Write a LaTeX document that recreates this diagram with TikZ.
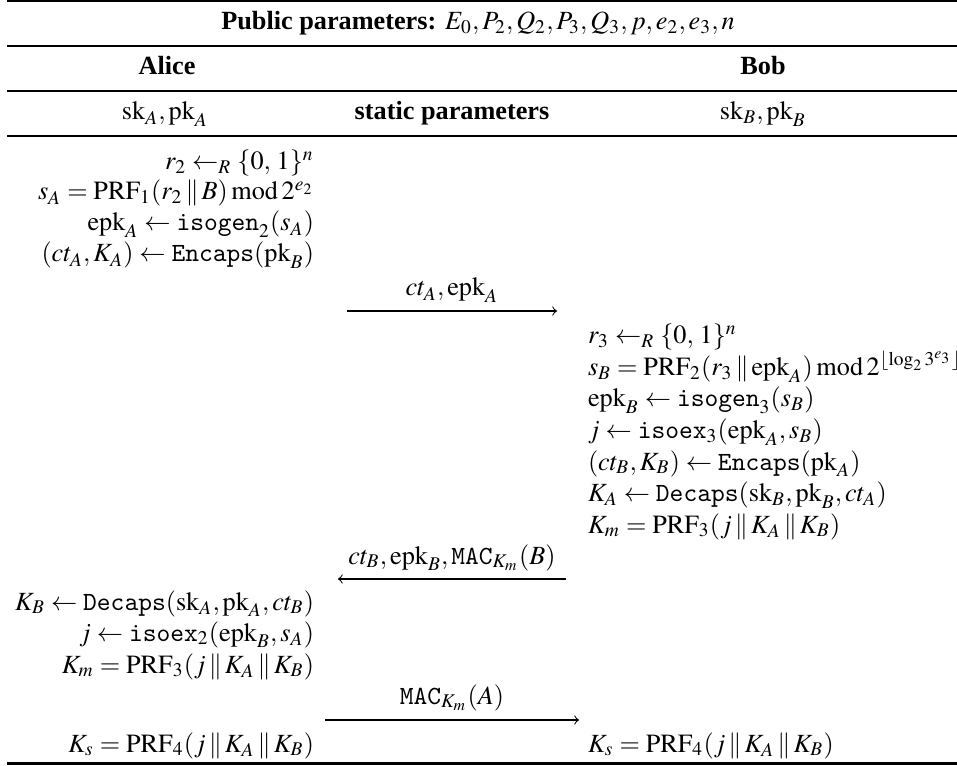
\documentclass[tikz,border=0pt]{standalone}
\usepackage{mathptmx}
\usepackage{fontspec}
\setmainfont{Liberation Serif}
\tikzset{
  txt/.style={inner sep=0pt, outer sep=0pt, font=\fontsize{10}{12}\selectfont},
  lcol/.style={txt, anchor=base east},
  rcol/.style={txt, anchor=base west},
  ctr/.style={txt, anchor=base},
  msg/.style={line width=0.4pt, -to},
  heavyrule/.style={line width=0.8pt},
  lightrule/.style={line width=0.5pt},
}
\newcommand{\cc}{\,\|\,}
\newcommand{\mymod}{\mathbin{\mathrm{mod}}}
\begin{document}
\begin{tikzpicture}[x=0.381pt,y=-0.381pt]
\useasboundingbox (0,0) rectangle (957,766);
% rules
\coordinate (r0a) at (7,1.2); \coordinate (r0b) at (957,1.2);
\coordinate (r1a) at (7,46); \coordinate (r1b) at (957,46);
\coordinate (r2a) at (7,91); \coordinate (r2b) at (957,91);
\coordinate (r3a) at (7,136); \coordinate (r3b) at (957,136);
\coordinate (r4a) at (7,763.5); \coordinate (r4b) at (957,763.5);
\draw[heavyrule] (r0a) -- (r0b);
\draw[lightrule] (r1a) -- (r1b);
\draw[lightrule] (r2a) -- (r2b);
\draw[lightrule] (r3a) -- (r3b);
\draw[heavyrule] (r4a) -- (r4b);
% header
\node[ctr] (pub) at (478,30) {\textbf{Public parameters:} $E_0, P_2, Q_2, P_3, Q_3, p, e_2, e_3, n$};
\node[ctr] (alice) at (167,75) {\textbf{Alice}};
\node[ctr] (bob) at (763,75) {\textbf{Bob}};
\node[ctr] (ska) at (165,120) {$\mathrm{sk}_A, \mathrm{pk}_A$};
\node[ctr] (stat) at (452,120) {\textbf{static parameters}};
\node[ctr] (skb) at (763,120) {$\mathrm{sk}_B, \mathrm{pk}_B$};
% Alice first block
\node[lcol] (l1) at (314,170) {$r_2 \leftarrow_R \{0,\,1\}^n$};
\node[lcol] (l2) at (314,200) {$s_A = \mathrm{PRF}_1(r_2 \cc B) \mymod 2^{e_2}$};
\node[lcol] (l3) at (314,231) {$\mathrm{epk}_A \leftarrow \mathtt{isogen}_2(s_A)$};
\node[lcol] (l4) at (314,262) {$(ct_A, K_A) \leftarrow \mathtt{Encaps}(\mathrm{pk}_B)$};
% message 1
\node[ctr] (m1) at (452,296) {$ct_A, \mathrm{epk}_A$};
\coordinate (m1s) at (347,311); \coordinate (m1e) at (557,311);
\draw[msg] (m1s) -- (m1e);
% Bob block
\node[rcol] (b1) at (588,344) {$r_3 \leftarrow_R \{0,\,1\}^n$};
\node[rcol] (b2) at (588,375.5) {$s_B = \mathrm{PRF}_2(r_3 \cc \mathrm{epk}_A) \mymod 2^{\lfloor \log_2 3^{e_3} \rfloor}$};
\node[rcol] (b3) at (588,407) {$\mathrm{epk}_B \leftarrow \mathtt{isogen}_3(s_B)$};
\node[rcol] (b4) at (588,438.5) {$j \leftarrow \mathtt{isoex}_3(\mathrm{epk}_A, s_B)$};
\node[rcol] (b5) at (588,470) {$(ct_B, K_B) \leftarrow \mathtt{Encaps}(\mathrm{pk}_A)$};
\node[rcol] (b6) at (588,501.5) {$K_A \leftarrow \mathtt{Decaps}(\mathrm{sk}_B, \mathrm{pk}_B, ct_A)$};
\node[rcol] (b7) at (588,533) {$K_m = \mathrm{PRF}_3(j \cc K_A \cc K_B)$};
% message 2
\node[ctr] (m2) at (452,564) {$ct_B, \mathrm{epk}_B, \mathtt{MAC}_{K_m}(B)$};
\coordinate (m2s) at (566,579); \coordinate (m2e) at (338,579);
\draw[msg] (m2s) -- (m2e);
% Alice second block
\node[lcol] (l5) at (314,610) {$K_B \leftarrow \mathtt{Decaps}(\mathrm{sk}_A, \mathrm{pk}_A, ct_B)$};
\node[lcol] (l6) at (314,641) {$j \leftarrow \mathtt{isoex}_2(\mathrm{epk}_B, s_A)$};
\node[lcol] (l7) at (314,673) {$K_m = \mathrm{PRF}_3(j \cc K_A \cc K_B)$};
% message 3
\node[ctr] (m3) at (452,704) {$\mathtt{MAC}_{K_m}(A)$};
\coordinate (m3s) at (325,720); \coordinate (m3e) at (579,720);
\draw[msg] (m3s) -- (m3e);
% session keys
\node[lcol] (l8) at (314,752) {$K_s = \mathrm{PRF}_4(j \cc K_A \cc K_B)$};
\node[rcol] (b8) at (588,752) {$K_s = \mathrm{PRF}_4(j \cc K_A \cc K_B)$};
\end{tikzpicture}
\end{document}
